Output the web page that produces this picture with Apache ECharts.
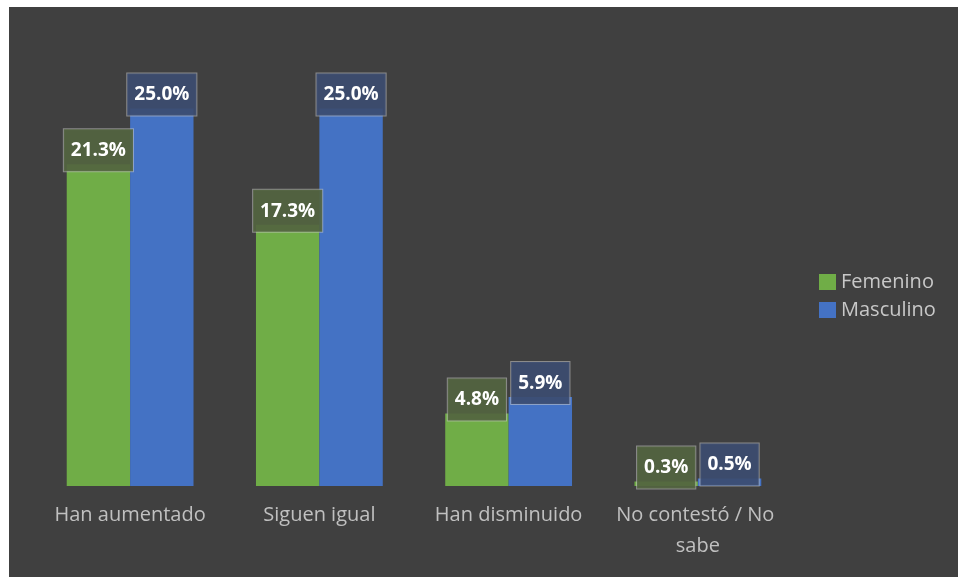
<!DOCTYPE html>
<html>
<head>
<meta charset="utf-8">
<script src="https://cdn.jsdelivr.net/npm/echarts@6/dist/echarts.min.js"></script>
<style>
  html, body { margin: 0; padding: 0; background: #ffffff; }
  #chart { position: absolute; left: 9px; top: 7px; width: 949px; height: 570px; background: #404040; }
</style>
</head>
<body>
<div id="chart"></div>
<script>
// Categories and percentages per group
const categories = ['Han aumentado', 'Siguen igual', 'Han disminuido', 'No contestó / No sabe'];
const femenino = [21.3, 17.3, 4.8, 0.3];
const masculino = [25.0, 25.0, 5.9, 0.5];
const seriesNames = ['Femenino', 'Masculino'];

const chart = echarts.init(document.getElementById('chart'));

function valueLabel(bg) {
  return {
    show: true,
    position: 'top',
    distance: -7,
    formatter: p => p.value.toFixed(1) + '%',
    color: '#ffffff',
    fontFamily: 'Open Sans',
    fontWeight: 'bold',
    fontSize: 19,
    backgroundColor: bg,
    borderColor: 'rgba(200,200,200,0.55)',
    borderWidth: 1,
    padding: [12, 7, 11, 7]
  };
}

chart.setOption({
  backgroundColor: '#404040',
  animation: false,
  grid: { left: 26.5, right: 165.5, top: 26, bottom: 91 },
  legend: {
    orient: 'vertical',
    left: 805,
    top: 260,
    itemWidth: 17,
    itemHeight: 16,
    itemGap: 8,
    icon: 'rect',
    textStyle: { color: '#c8c8c8', fontFamily: 'Open Sans', fontSize: 20 },
    data: seriesNames
  },
  xAxis: {
    type: 'category',
    data: categories,
    axisLine: { show: false },
    axisTick: { show: false },
    axisLabel: {
      color: '#c0c0c0',
      fontFamily: 'Open Sans',
      fontSize: 20,
      margin: 14,
      lineHeight: 31,
      width: 185,
      overflow: 'break',
      interval: 0
    }
  },
  yAxis: {
    type: 'value',
    min: 0,
    max: 30,
    show: false,
    splitLine: { show: false }
  },
  series: [
    {
      name: seriesNames[0],
      type: 'bar',
      data: femenino,
      barGap: '0%',
      barCategoryGap: '33%',
      itemStyle: { color: '#70ad47' },
      label: valueLabel('rgba(82,100,64,0.92)'),
      z: 2
    },
    {
      name: seriesNames[1],
      type: 'bar',
      data: masculino,
      itemStyle: { color: '#4472c4' },
      label: valueLabel('rgba(60,76,112,0.92)'),
      z: 2
    }
  ]
});
</script>
</body>
</html>
